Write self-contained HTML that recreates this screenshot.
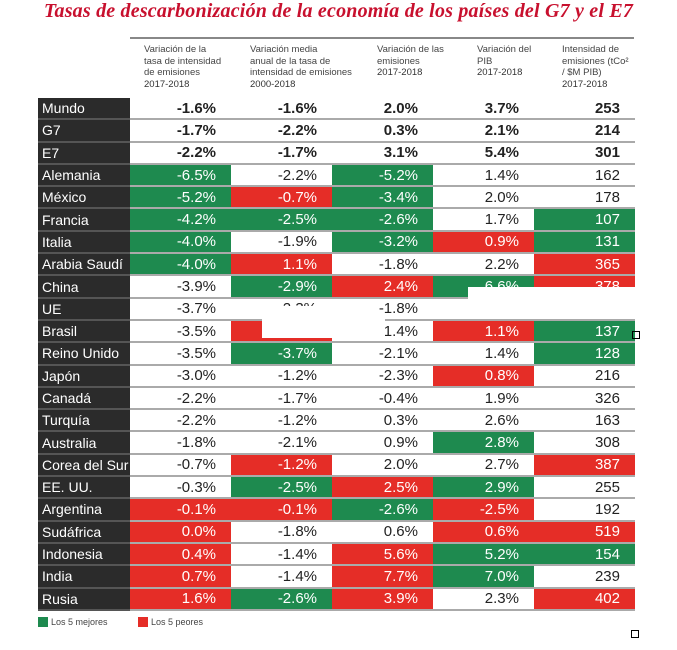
<!DOCTYPE html>
<html><head><meta charset="utf-8"><style>
body{margin:0;width:677px;height:650px;background:#fff;position:relative;overflow:hidden;font-family:"Liberation Sans",sans-serif}
.t{position:absolute;left:0;width:677px;top:0px;text-align:center;color:#c8102e;font:italic bold 20px "Liberation Serif",serif;white-space:nowrap;letter-spacing:0.2px}
.h{position:absolute;top:44px;font-size:9.5px;line-height:11.5px;color:#444}
.h b{color:#333;font-weight:normal}
table{position:absolute;left:38px;top:98px;border-collapse:collapse}
td{height:20.3px;padding:0 15px 0 0;border-bottom:2px solid #aaa;text-align:right;font-size:15px;color:#222;width:86px}
td.l{background:#2b2b2b;color:#fff;text-align:left;padding:0 0 0 4px;width:88px;font-size:14px;border-bottom:2px solid #555}
td.g{background:#1e8a4f;color:#fff}
td.r{background:#e52d27;color:#fff}
tr.b td{font-weight:bold}
tr.b td.l{font-weight:normal}
.sq{position:absolute;width:6px;height:6px;border:1px solid #000}
.lg{position:absolute;top:617px;font-size:9px;color:#444}
.lg i{display:inline-block;width:10px;height:10px;vertical-align:-2px;margin-right:3px}
</style></head><body>
<div class="t">Tasas de descarbonización de la economía de los países del G7 y el E7</div>
<div style="position:absolute;left:130px;top:37px;width:504px;height:2px;background:#888"></div>
<div class="h" style="left:144px">Variación de la<br>tasa de intensidad<br>de emisiones<br><b>2017-2018</b></div>
<div class="h" style="left:250px">Variación media<br>anual de la tasa de<br>intensidad de emisiones<br><b>2000-2018</b></div>
<div class="h" style="left:377px">Variación de las<br>emisiones<br><b>2017-2018</b></div>
<div class="h" style="left:477px">Variación del<br>PIB<br><b>2017-2018</b></div>
<div class="h" style="left:562px">Intensidad de<br>emisiones (tCo²<br>/ $M PIB)<br><b>2017-2018</b></div>
<table>
<tr class="b"><td class="l">Mundo</td><td>-1.6%</td><td>-1.6%</td><td>2.0%</td><td>3.7%</td><td>253</td></tr>
<tr class="b"><td class="l">G7</td><td>-1.7%</td><td>-2.2%</td><td>0.3%</td><td>2.1%</td><td>214</td></tr>
<tr class="b"><td class="l">E7</td><td>-2.2%</td><td>-1.7%</td><td>3.1%</td><td>5.4%</td><td>301</td></tr>
<tr><td class="l">Alemania</td><td class="g">-6.5%</td><td>-2.2%</td><td class="g">-5.2%</td><td>1.4%</td><td>162</td></tr>
<tr><td class="l">México</td><td class="g">-5.2%</td><td class="r">-0.7%</td><td class="g">-3.4%</td><td>2.0%</td><td>178</td></tr>
<tr><td class="l">Francia</td><td class="g">-4.2%</td><td class="g">-2.5%</td><td class="g">-2.6%</td><td>1.7%</td><td class="g">107</td></tr>
<tr><td class="l">Italia</td><td class="g">-4.0%</td><td>-1.9%</td><td class="g">-3.2%</td><td class="r">0.9%</td><td class="g">131</td></tr>
<tr><td class="l">Arabia Saudí</td><td class="g">-4.0%</td><td class="r">1.1%</td><td>-1.8%</td><td>2.2%</td><td class="r">365</td></tr>
<tr><td class="l">China</td><td>-3.9%</td><td class="g">-2.9%</td><td class="r">2.4%</td><td class="g">6.6%</td><td class="r">378</td></tr>
<tr><td class="l">UE</td><td>-3.7%</td><td>-2.3%</td><td>-1.8%</td><td>2.0%</td><td>263</td></tr>
<tr><td class="l">Brasil</td><td>-3.5%</td><td class="r">-0.4%</td><td>-1.4%</td><td class="r">1.1%</td><td class="g">137</td></tr>
<tr><td class="l">Reino Unido</td><td>-3.5%</td><td class="g">-3.7%</td><td>-2.1%</td><td>1.4%</td><td class="g">128</td></tr>
<tr><td class="l">Japón</td><td>-3.0%</td><td>-1.2%</td><td>-2.3%</td><td class="r">0.8%</td><td>216</td></tr>
<tr><td class="l">Canadá</td><td>-2.2%</td><td>-1.7%</td><td>-0.4%</td><td>1.9%</td><td>326</td></tr>
<tr><td class="l">Turquía</td><td>-2.2%</td><td>-1.2%</td><td>0.3%</td><td>2.6%</td><td>163</td></tr>
<tr><td class="l">Australia</td><td>-1.8%</td><td>-2.1%</td><td>0.9%</td><td class="g">2.8%</td><td>308</td></tr>
<tr><td class="l">Corea del Sur</td><td>-0.7%</td><td class="r">-1.2%</td><td>2.0%</td><td>2.7%</td><td class="r">387</td></tr>
<tr><td class="l">EE. UU.</td><td>-0.3%</td><td class="g">-2.5%</td><td class="r">2.5%</td><td class="g">2.9%</td><td>255</td></tr>
<tr><td class="l">Argentina</td><td class="r">-0.1%</td><td class="r">-0.1%</td><td class="g">-2.6%</td><td class="r">-2.5%</td><td>192</td></tr>
<tr><td class="l">Sudáfrica</td><td class="r">0.0%</td><td>-1.8%</td><td>0.6%</td><td class="r">0.6%</td><td class="r">519</td></tr>
<tr><td class="l">Indonesia</td><td class="r">0.4%</td><td>-1.4%</td><td class="r">5.6%</td><td class="g">5.2%</td><td class="g">154</td></tr>
<tr><td class="l">India</td><td class="r">0.7%</td><td>-1.4%</td><td class="r">7.7%</td><td class="g">7.0%</td><td>239</td></tr>
<tr><td class="l">Rusia</td><td class="r">1.6%</td><td class="g">-2.6%</td><td class="r">3.9%</td><td>2.3%</td><td class="r">402</td></tr>
</table>
<div style="position:absolute;left:468px;top:287px;width:170px;height:32px;background:#fff"></div>
<div style="position:absolute;left:262px;top:319px;width:123px;height:19px;background:#fff"></div>
<div style="position:absolute;left:270px;top:306px;width:100px;height:13px;background:#fff"></div>
<div class="sq" style="left:632px;top:331px"></div>
<div class="sq" style="left:631px;top:630px"></div>
<div class="lg" style="left:38px"><i style="background:#1e8a4f"></i>Los 5 mejores</div>
<div class="lg" style="left:138px"><i style="background:#e52d27"></i>Los 5 peores</div>
</body></html>
